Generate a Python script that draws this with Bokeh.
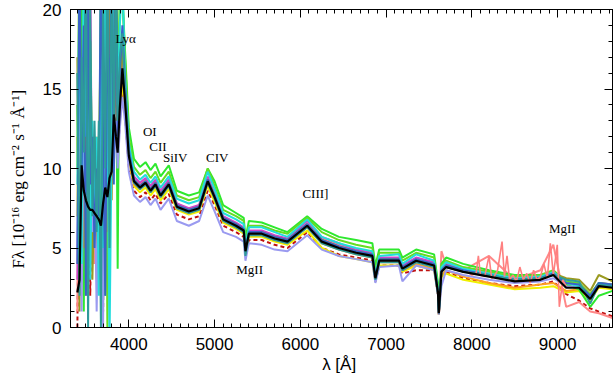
from bokeh.plotting import figure
from bokeh.models import Range1d, LinearAxis, SingleIntervalTicker, CustomJSTickFormatter
from bokeh.embed import file_html
from bokeh.resources import INLINE
from bokeh.core.properties import value

# ---------------- data ----------------
wavelength = [3400, 3425, 3450, 3475, 3500, 3525, 3550, 3575, 3600, 3625,
              3650, 3675, 3700, 3725, 3750, 3775, 3800, 3825, 3850,
              3870, 3895, 3925, 3955, 4000,
              4060, 4130, 4195, 4253, 4311,
              4370, 4466, 4560, 4700, 4820,
              4920, 5000, 5100, 5250, 5340,
              5360, 5400, 5550, 5700, 5850,
              6080, 6250, 6450, 6650, 6840,
              6875, 6920, 7150, 7190, 7350,
              7560, 7605, 7615, 7645, 7700,
              7900, 8200, 8500, 8800, 8950,
              9100, 9250, 9380, 9480, 9640]

mean_flux = [2.2, 3.0, 10.2, 8.6, 8.0, 7.6, 7.4, 7.4, 7.2, 7.0,
             6.8, 6.4, 7.8, 8.8, 8.2, 9.4, 9.8, 13.4, 12.0,
             11.0, 13.8, 16.3, 14.3, 10.8,
             9.2, 8.8, 9.1, 8.6, 9.0,
             8.3, 9.0, 7.6, 7.3, 7.5,
             9.2, 8.2, 6.8, 6.4, 6.1,
             4.8, 5.9, 5.9, 5.6, 5.4,
             6.4, 5.4, 5.0, 4.7, 4.5,
             3.1, 4.2, 4.2, 3.7, 4.2,
             3.9, 2.2, 0.9, 3.5, 3.8,
             3.5, 3.2, 2.9, 3.0, 3.3,
             2.5, 2.5, 1.8, 2.6, 2.5]

flux_green = [14, 3, 24, 1, 22, 6, 18, 9, 11, 5, 12, 4, 24, 2, 23, 8, 21, 24, 20,
              3.7, 22, 21, 17.5, 12.6,
              10.6, 10.1, 10.4, 9.9, 10.3,
              9.5, 10.2, 8.6, 8.3, 8.5,
              10.0, 9.2, 7.7, 7.2, 6.9,
              5.6, 6.7, 6.6, 6.3, 6.0,
              7.0, 6.2, 5.7, 5.5, 5.3,
              3.9, 4.9, 4.9, 4.4, 4.9,
              4.6, 2.8, 1.3, 4.0, 4.4,
              4.0, 3.6, 3.3, 3.3, 3.5,
              2.7, 2.4, 1.3, 2.0, 2.3]

flux_lime = [10, 25, 6, 17, 3, 24, 11, 6, 12, 9, 3, 25, 8, 19, 0, 24, 17, 23, 25,
             16, 20, 21, 17, 12.0,
             10.1, 9.6, 9.9, 9.4, 9.8,
             9.1, 9.8, 8.3, 8.0, 8.2,
             10.0, 8.9, 7.4, 7.0, 6.7,
             5.3, 6.4, 6.4, 6.1, 5.9,
             6.9, 6.0, 5.5, 5.2, 5.0,
             3.5, 4.7, 4.7, 4.2, 4.7,
             4.4, 2.5, 1.1, 3.9, 4.2,
             3.8, 3.5, 3.2, 3.3, 3.6,
             2.9, 2.8, 2.1, 2.8, 2.7]

flux_cyan = [9, 22, 4, 25, 12, 19, 3, 13, 8, 12, 2, 22, 5, 24, 14, -1, 12, 25, 20,
             14, 19, 22, 16.0, 11.6,
             9.8, 9.3, 9.6, 9.1, 9.5,
             8.8, 9.5, 8.1, 7.8, 8.0,
             9.8, 8.7, 7.2, 6.8, 6.5,
             5.1, 6.3, 6.3, 6.0, 5.7,
             6.8, 5.7, 5.3, 5.0, 4.8,
             3.3, 4.5, 4.6, 4.0, 4.6,
             4.2, 2.4, 1.0, 3.8, 4.1,
             3.7, 3.4, 3.1, 3.2, 3.5,
             2.8, 2.6, 1.9, 2.8, 2.6]

flux_lavender = [5, 18, 1, 14, 24, 2, 16, 6, 10, 1, 9, 17, 0, 15, 22, 6, 16, 10, 13,
                 10, 12.5, 14.5, 13.0, 9.8,
                 8.3, 7.9, 8.2, 7.7, 8.1,
                 7.4, 8.1, 6.7, 6.4, 6.7,
                 8.3, 7.3, 6.0, 5.7, 5.4,
                 4.2, 5.3, 5.2, 4.9, 4.8,
                 5.8, 4.9, 4.5, 4.3, 4.1,
                 2.8, 3.8, 3.9, 2.9, 3.9,
                 3.6, 2.0, 0.8, 2.6, 3.6,
                 3.3, 3.0, 2.8, 2.9, 3.1,
                 2.6, 2.5, 1.9, 2.7, 2.6]

flux_magenta = [3, 15, 21, 6, 18, 10, 23, 4, 12, 7, 11, 3, 19, 8, 25, 11, 19, 14, 21,
                12, 15, 17, 14.8, 11.1,
                9.5, 9.1, 9.4, 8.9, 9.3,
                8.6, 9.3, 7.8, 7.5, 7.7,
                9.5, 8.4, 7.0, 6.6, 6.3,
                5.0, 6.1, 6.1, 5.8, 5.6,
                6.7, 5.7, 5.3, 4.9, 4.7,
                3.2, 4.4, 4.4, 3.9, 4.4,
                4.1, 2.3, 1.0, 3.7, 4.0,
                3.7, 3.4, 3.1, 3.2, 3.5,
                2.7, 2.7, 2.0, 2.8, 2.7]

flux_darkred = [0, 12, 3, 20, 7, 15, 2, 10, 6, 11, 4, 14, 1, 18, 9, 20, 11, 15, 12,
                10.5, 13, 15.2, 13.4, 10.1,
                8.6, 8.2, 8.5, 8.0, 8.4,
                7.8, 8.4, 7.1, 6.8, 7.0,
                8.6, 7.7, 6.4, 6.0, 5.7,
                4.5, 5.5, 5.5, 5.2, 5.0,
                6.0, 5.0, 4.6, 4.4, 4.2,
                2.9, 3.9, 3.9, 3.4, 3.6,
                3.6, 2.0, 0.8, 3.2, 3.5,
                3.1, 2.8, 2.6, 2.7, 2.9,
                2.1, 1.7, 1.2, 1.0, 0.7]

flux_salmon = [1, 19, 6, 23, 2, 17, 8, 12, 4, 9, 6, 18, 3, 22, 7, 19, 10, 23, 14,
               12, 14, 16.8, 14.5, 11.0,
               9.3, 9.0, 9.3, 8.8, 9.2,
               8.5, 9.2, 7.8, 7.4, 7.7,
               9.4, 8.4, 6.9, 6.5, 6.2,
               4.9, 6.0, 6.0, 5.7, 5.5,
               6.8, 5.6, 5.2, 4.8, 4.6,
               3.2, 4.3, 4.3, 3.8, 4.3,
               4.0, 2.3, 0.9, 4.8, 3.9,
               3.6, 4.5, 3.0, 3.6, 5.2,
               1.3, 1.6, 1.0, 0.9, 0.6]

flux_yellow = [7, 20, 2, 16, 9, 22, 5, 12, 8, 3, 10, 20, 6, 17, 11, 24, 9, 18, 15,
               11, 13, 15.5, 13.8, 10.5,
               8.9, 8.5, 8.8, 8.3, 8.7,
               8.0, 8.7, 7.4, 7.1, 7.3,
               8.9, 7.9, 6.6, 6.2, 5.9,
               4.7, 5.7, 5.7, 5.4, 5.2,
               6.1, 5.0, 4.5, 4.3, 4.1,
               2.9, 3.9, 3.9, 3.5, 3.9,
               3.6, 2.1, 0.8, 3.2, 3.4,
               3.0, 2.7, 2.4, 2.5, 2.6,
               2.2, 2.3, 1.7, 2.5, 2.4]

flux_orange = [12, 4, 19, 8, 23, 3, 15, 9, 7, 12, 5, 16, 9, 21, 4, 18, 14, 22, 16,
               11.5, 14.2, 16.0, 14.0, 10.6,
               9.0, 8.7, 9.0, 8.5, 8.9,
               8.2, 8.9, 7.5, 7.2, 7.4,
               9.1, 8.1, 6.7, 6.3, 6.0,
               4.7, 5.8, 5.8, 5.5, 5.3,
               6.3, 5.3, 4.9, 4.6, 4.4,
               3.0, 4.1, 4.1, 3.6, 4.0,
               3.7, 2.1, 0.9, 3.3, 3.6,
               3.2, 2.8, 2.5, 2.7, 2.8,
               2.3, 2.4, 1.8, 2.6, 2.5]

flux_teal = [16, 2, 17, 11, 25, 0, 20, 7, 13, 6, 13, 0, 21, 10, 25, 5, 23, 13, 22,
             13, 17, 18.5, 15.0, 10.9,
             9.1, 8.7, 9.0, 8.5, 8.9,
             8.2, 8.9, 7.5, 7.2, 7.4,
             9.1, 8.1, 6.7, 6.3, 6.0,
             4.5, 5.8, 5.8, 5.5, 5.3,
             6.3, 5.3, 4.9, 4.6, 4.4,
             3.0, 4.1, 4.1, 3.6, 4.1,
             3.8, 2.1, 0.9, 3.5, 3.8,
             3.5, 3.3, 3.0, 3.1, 3.3,
             3.0, 2.9, 1.5, 2.7, 2.6]

flux_olive = [17, 1, 15, 5, 21, 8, 13, 3, 9, 4, 8, 14, 3, 18, 6, 22, 8, 20, 14,
              12.5, 15.5, 17.5, 14.6, 10.9,
              9.3, 8.9, 9.2, 8.7, 9.1,
              8.4, 9.1, 7.7, 7.4, 7.6,
              9.3, 8.3, 6.9, 6.5, 6.2,
              4.9, 6.0, 6.0, 5.7, 5.5,
              6.5, 5.5, 5.1, 4.8, 4.6,
              3.2, 4.3, 4.3, 3.8, 4.2,
              3.9, 2.3, 1.0, 3.6, 3.9,
              3.6, 3.3, 3.0, 3.2, 3.4,
              3.1, 3.0, 2.3, 3.3, 2.9]

flux_blue = [4, 24, 10, 19, 2, 21, 9, 12, 5, 10, 7, 24, 12, 2, 19, 13, 25, 9, 24,
             12, 16, 19, 15.5, 11.2,
             9.3, 8.9, 9.2, 8.7, 9.1,
             8.4, 9.1, 7.7, 7.4, 7.6,
             9.3, 8.3, 6.9, 6.5, 6.2,
             4.8, 6.0, 6.0, 5.7, 5.5,
             6.5, 5.5, 5.1, 4.8, 4.6,
             3.1, 4.3, 4.3, 3.8, 4.3,
             4.0, 2.2, 0.9, 3.6, 3.9,
             3.6, 3.3, 3.0, 3.1, 3.4,
             2.8, 2.7, 2.0, 2.8, 2.7]

# spiky red-end portion of the salmon spectrum
salmon_spike_wavelength = [7950, 8000, 8050, 8076, 8100, 8150, 8200, 8230, 8260, 8300,
                           8352, 8380, 8410, 8440, 8480, 8520, 8560, 8600, 8640, 8680,
                           8720, 8760, 8800, 8840, 8880, 8915, 8950, 8996, 9020, 9060, 9100]
salmon_spike_flux = [3.5, 3.3, 3.4, 4.5, 3.3, 3.2, 4.5, 3.1, 3.2, 3.6,
                     5.4, 3.2, 4.5, 3.0, 3.3, 2.9, 3.8, 3.0, 3.4, 2.8,
                     3.6, 3.0, 3.2, 4.0, 3.1, 5.3, 3.3, 5.2, 1.3, 3.0, 2.6]

line_labels = ["Lyα", "OI", "CII", "SiIV", "CIV", "MgII", "CIII]", "MgII"]
label_wavelength = [3963, 4245, 4340, 4541, 5030, 5409, 6176, 9055]
label_flux = [18.2, 12.3, 11.4, 10.7, 10.7, 3.65, 8.4, 6.2]

# ---------------- figure ----------------
series = [
    ("#c01010", flux_darkred, "4 3"),
    ("#f0f000", flux_yellow, "solid"),
    ("#ffa020", flux_orange, "solid"),
    ("#ff8888", flux_salmon, "solid"),
    ("#cc44cc", flux_magenta, "solid"),
    ("#2ee82e", flux_green, "solid"),
    ("#66dd22", flux_lime, "solid"),
    ("#9a9a20", flux_olive, "solid"),
    ("#9a9af0", flux_lavender, "solid"),
    ("#22dddd", flux_cyan, "solid"),
    ("#3a62c8", flux_blue, "solid"),
    ("#2e9a9a", flux_teal, "solid"),
]
for _, f, _ in series:
    if len(f) != len(wavelength):
        raise ValueError("length mismatch %d" % len(f))
if len(mean_flux) != len(wavelength):
    raise ValueError("mean length mismatch")

p = figure(width=615, height=379, x_range=Range1d(3320, 9640), y_range=Range1d(0, 20),
           output_backend="svg", toolbar_location=None,
           min_border_left=70, min_border_right=3, min_border_top=9, min_border_bottom=52)
p.background_fill_color = "white"
p.border_fill_color = "white"
p.outline_line_color = "black"
p.grid.visible = False

for color, f, dash in series:
    p.line(wavelength, f, line_color=color, line_width=2.0, line_dash=dash)
p.line(salmon_spike_wavelength, salmon_spike_flux, line_color="#ff8080", line_width=1.6)
p.line(wavelength, mean_flux, line_color="black", line_width=2.2)

p.text(x=label_wavelength, y=label_flux, text=line_labels,
       text_font=value("Liberation Serif"), text_font_size="13px",
       text_align="center", text_baseline="middle", text_color="black")

xt = SingleIntervalTicker(interval=1000, num_minor_ticks=10)
yt = SingleIntervalTicker(interval=5, num_minor_ticks=5)
for ax in (p.xaxis[0], p.yaxis[0]):
    ax.major_tick_in = 8
    ax.major_tick_out = 0
    ax.minor_tick_in = 4
    ax.minor_tick_out = 0
    ax.axis_line_color = "black"
    ax.major_tick_line_color = "black"
    ax.minor_tick_line_color = "black"
    ax.major_label_text_font = "Liberation Sans"
    ax.major_label_text_font_size = "17px"
    ax.major_label_text_color = "black"
    ax.axis_label_text_font_style = "normal"
    ax.axis_label_text_color = "black"
p.xaxis.ticker = xt
p.yaxis.ticker = yt
p.xaxis.major_label_standoff = 10
p.yaxis.major_label_standoff = 9
p.xaxis.axis_label = "λ  [Å]"
p.xaxis.axis_label_text_font = "Liberation Sans"
p.xaxis.axis_label_text_font_size = "17px"
p.xaxis.axis_label_standoff = 2
p.yaxis.axis_label = "Fλ  [10⁻¹⁶  erg  cm⁻²  s⁻¹  Å⁻¹]"
p.yaxis.axis_label_text_font = "Liberation Serif"
p.yaxis.axis_label_text_font_size = "17px"
p.yaxis.axis_label_standoff = 12

top = LinearAxis(ticker=SingleIntervalTicker(interval=1000, num_minor_ticks=10),
                 formatter=CustomJSTickFormatter(code="return ''"),
                 major_label_text_font_size="0px", major_label_standoff=0,
                 major_tick_in=8, major_tick_out=0, minor_tick_in=4, minor_tick_out=0)
right = LinearAxis(ticker=SingleIntervalTicker(interval=5, num_minor_ticks=5),
                   formatter=CustomJSTickFormatter(code="return ''"),
                   major_label_text_font_size="0px", major_label_standoff=0,
                   major_tick_in=8, major_tick_out=0, minor_tick_in=4, minor_tick_out=0)
p.add_layout(top, "above")
p.add_layout(right, "right")

open("out.html", "w").write(file_html(p, INLINE))
